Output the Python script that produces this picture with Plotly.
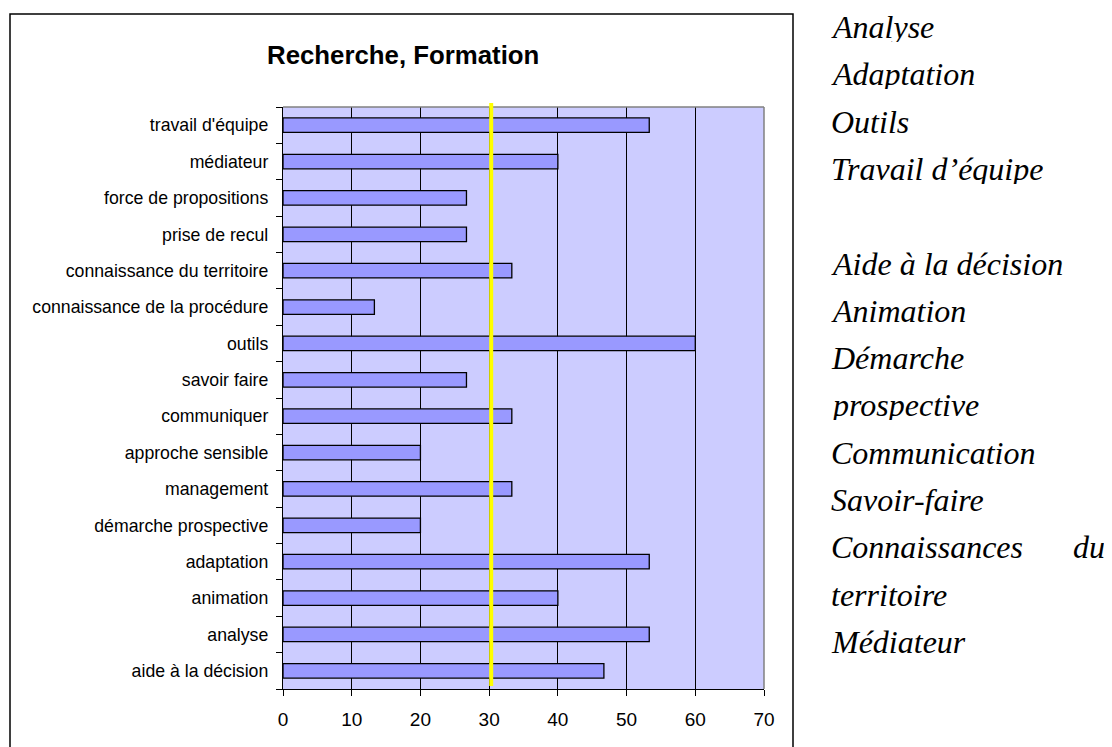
import plotly.graph_objects as go

# ---- data (bottom to top) ----
categories = [
    "aide à la décision", "analyse", "animation", "adaptation",
    "démarche prospective", "management", "approche sensible", "communiquer",
    "savoir faire", "outils", "connaissance de la procédure",
    "connaissance du territoire", "prise de recul", "force de propositions",
    "médiateur", "travail d'équipe",
]
values = [46.7, 53.3, 40, 53.3, 20, 33.3, 20, 33.3, 26.7, 60, 13.3, 33.3, 26.7, 26.7, 40, 53.3]
threshold = 30.3
x_ticks = [0, 10, 20, 30, 40, 50, 60, 70]
title_text = "Recherche, Formation"
side_lines = [
    "Analyse", "Adaptation", "Outils", "Travail d’équipe", "",
    "Aide à la décision", "Animation", "Démarche", "prospective",
    "Communication", "Savoir-faire", "Connaissances", "territoire", "Médiateur",
]

# ---- layout geometry (page pixels; the page body has an 8px margin) ----
OFF = 8
W, H = 1112 - OFF, 747 - OFF
L, R, T, B = 283 - OFF, 764 - OFF, 107 - OFF, 689 - OFF
PW, PH = R - L, B - T

def px(x):
    return (x - OFF - L) / PW

def py(y):
    return (B - (y - OFF)) / PH

fig = go.Figure()
fig.add_trace(go.Bar(
    x=values, y=categories, orientation="h",
    marker=dict(color="#9999FF", line=dict(color="#000000", width=1.3)),
    hoverinfo="x+y",
))

arial = "Liberation Sans, Arial, sans-serif"
times = "Liberation Serif, Times New Roman, serif"

fig.update_layout(
    width=W, height=H, autosize=False,
    margin=dict(l=L, r=W - R, t=T, b=H - B),
    paper_bgcolor="white", plot_bgcolor="#CCCCFF",
    showlegend=False, bargap=0.6,
    font=dict(family=arial, color="black"),
)
fig.update_xaxes(
    range=[0, 70], tickvals=x_ticks, ticks="outside", ticklen=6, tickcolor="black",
    showgrid=True, gridcolor="black", gridwidth=1.2,
    showline=True, linecolor="black", linewidth=1.3,
    tickfont=dict(family=arial, size=19, color="black"),
    ticklabelstandoff=7,
    zeroline=False, fixedrange=True,
)
fig.update_yaxes(
    type="category", categoryorder="array", categoryarray=categories,
    range=[-0.5, len(categories) - 0.5],
    ticks="outside", ticklen=6, tickcolor="black", tickson="boundaries",
    showgrid=False, showline=True, linecolor="black", linewidth=1.3,
    tickfont=dict(family=arial, size=17.7, color="black"),
    ticklabelstandoff=10, fixedrange=True,
)

shapes = []
# gray top/right plot border
shapes.append(dict(type="line", xref="paper", yref="paper", x0=0, x1=1, y0=1, y1=1,
                   line=dict(color="#808080", width=1.5)))
shapes.append(dict(type="line", xref="paper", yref="paper", x0=1, x1=1, y0=0, y1=1,
                   line=dict(color="#808080", width=1.5)))
# yellow threshold line
shapes.append(dict(type="line", xref="x", yref="paper", x0=threshold, x1=threshold,
                   y0=py(686), y1=py(103), line=dict(color="#FFFF00", width=4)))
# outer chart frame
shapes.append(dict(type="rect", xref="paper", yref="paper",
                   x0=px(10), x1=px(793), y0=py(770), y1=py(14),
                   line=dict(color="black", width=1.5), fillcolor="rgba(0,0,0,0)"))
fig.update_layout(shapes=shapes)

annotations = [dict(text=f"<b>{title_text}</b>", xref="paper", yref="paper",
                    x=px(402.5), y=py(55), xanchor="center", yanchor="middle",
                    showarrow=False, font=dict(family=arial, size=25.8, color="black"))]
base0, step = 37.5, 47.3
for i, line in enumerate(side_lines):
    if not line:
        continue
    baseline = base0 + i * step
    annotations.append(dict(text=f"<i>{line}</i>", xref="paper", yref="paper",
                            x=px(830), y=py(baseline - 10.5), xanchor="left", yanchor="middle",
                            height=30, valign="middle", borderpad=0,
                            showarrow=False, font=dict(family=times, size=32, color="black")))
    if line == "Connaissances":
        annotations.append(dict(text="<i>du</i>", xref="paper", yref="paper",
                                x=px(1106), y=py(baseline - 10.5), xanchor="right", yanchor="middle",
                                height=30, valign="middle", borderpad=0,
                                showarrow=False, font=dict(family=times, size=32, color="black")))
fig.update_layout(annotations=annotations)

fig.write_html("out.html")
